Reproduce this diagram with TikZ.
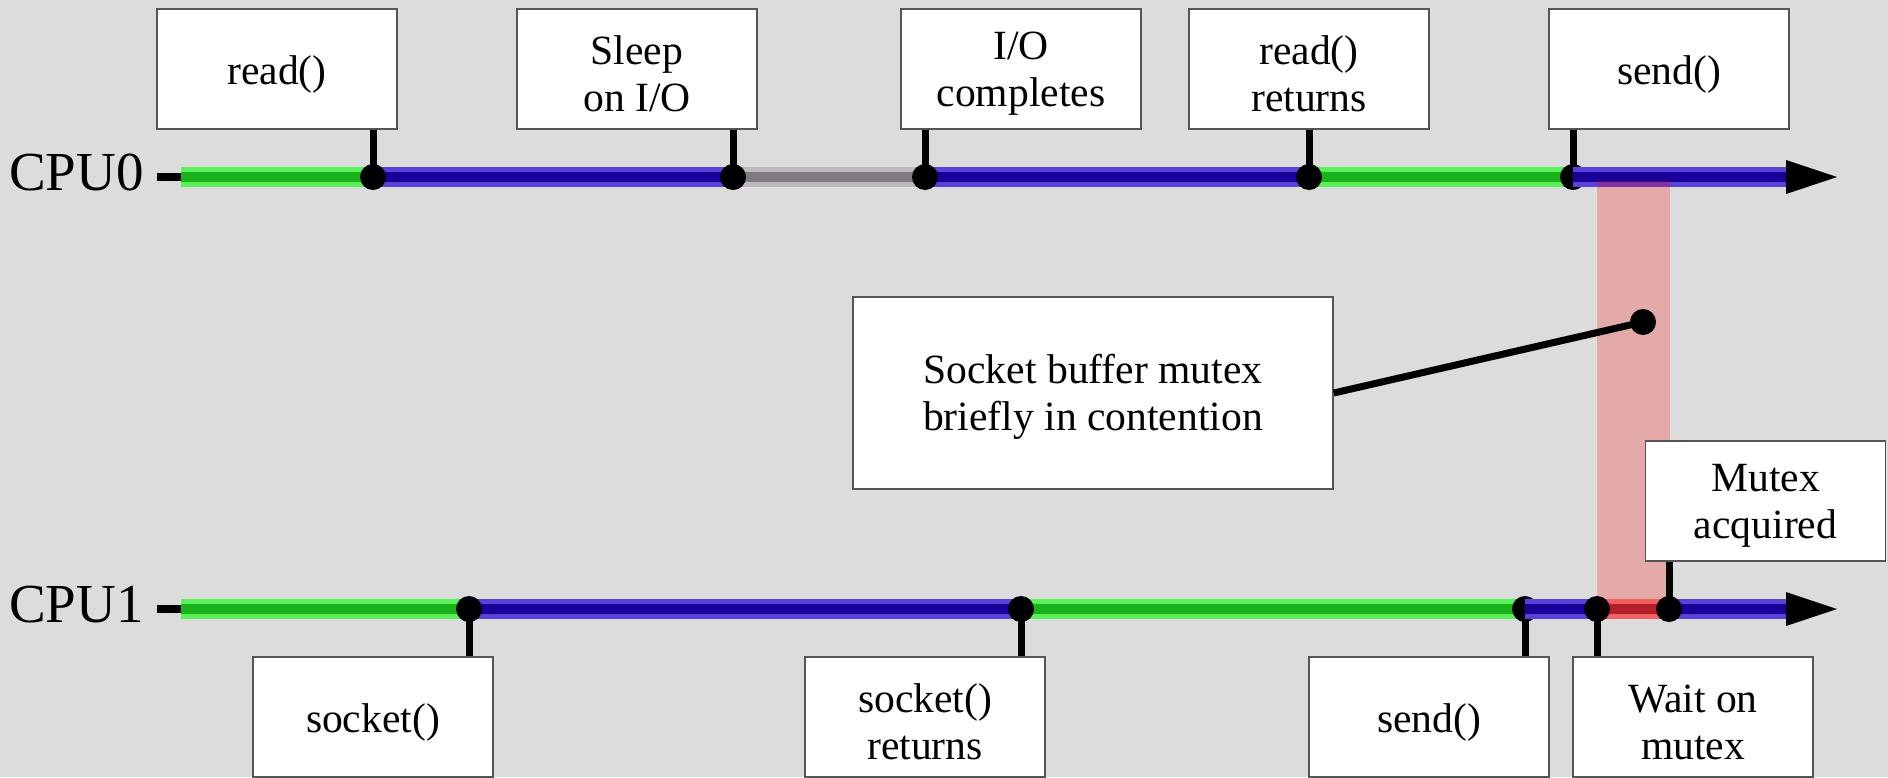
\documentclass[tikz,border=0pt]{standalone}
\usepackage{fontspec}
\setmainfont{Liberation Serif}
\definecolor{bgc}{HTML}{DCDCDC}
\definecolor{grnO}{HTML}{5AF05A}
\definecolor{grnI}{HTML}{19B019}
\definecolor{bluO}{HTML}{5A41D8}
\definecolor{bluI}{HTML}{1A0099}
\definecolor{gryO}{HTML}{BEB9BE}
\definecolor{gryI}{HTML}{7F7A7F}
\definecolor{redO}{HTML}{F06060}
\definecolor{redI}{HTML}{B41E28}
\definecolor{boxline}{HTML}{555555}
\definecolor{hold}{HTML}{FF0000}
% one coloured stretch of a timeline: outer colour, inner colour, x from, x to, y
\newcommand\tlseg[5]{%
  \draw[line width=10pt,#1] (#3,#5) -- (#4,#5);
  \draw[line width=5pt,#2] (#3,#5) -- (#4,#5);}
% a white event box with its caption: name, centre, caption
\newcommand\evbox[3]{%
  \node[box] (#1) at (#2) {};
  \node[lbl] (#1-txt) at ([yshift=-2.5pt]#1.center) {#3};}
\begin{document}
\begin{tikzpicture}[x=0.5pt,y=-0.5pt,line cap=butt,
  box/.style={draw=boxline,line width=0.75pt,fill=white,
    minimum width=120pt,minimum height=60pt,inner sep=0pt},
  lbl/.style={align=center,inner sep=0pt,
    font=\fontsize{20.8}{23.5}\selectfont},
  dot/.style={circle,fill=black,inner sep=0pt,minimum size=13pt},
  stem/.style={draw=black,line width=3.5pt},
  cpu/.style={anchor=base east,inner sep=0pt,font=\fontsize{27.5}{30}\selectfont}]
\fill[bgc] (0,0) rectangle (1888,777);
\useasboundingbox (0,0) rectangle (1888,777);

% ---- CPU0 timeline ----
\node[cpu] (cpu0) at (144,190) {CPU0};
\draw[line width=4pt] (157,177) -- (181,177);
\tlseg{grnO}{grnI}{181}{373}{177}
\tlseg{bluO}{bluI}{373}{733}{177}
\tlseg{gryO}{gryI}{733}{925}{177}
\tlseg{bluO}{bluI}{925}{1309}{177}
\tlseg{grnO}{grnI}{1309}{1573}{177}

\evbox{t1}{277,69}{read()}
\evbox{t2}{637,69}{Sleep\\on I/O}
\evbox{t3}{1021,69}{I/O\\completes}
\evbox{t4}{1309,69}{read()\\returns}
\evbox{t5}{1669,69}{send()}

\node[dot] (p1) at (373,177) {};
\node[dot] (p2) at (733,177) {};
\node[dot] (p3) at (925,177) {};
\node[dot] (p4) at (1309,177) {};
\node[dot] (p5) at (1573,177) {};
\foreach \i in {1,...,5} \draw[stem] (p\i.center) -- (p\i |- t\i.south);

\tlseg{bluO}{bluI}{1573}{1788}{177}
\fill (1786,160) -- (1837,177) -- (1786,194) -- cycle;

% ---- contention band ----
\fill[hold,opacity=0.23] (1597,181) rectangle (1670,609);

% ---- CPU1 timeline ----
\node[cpu] (cpu1) at (144,622) {CPU1};
\draw[line width=4pt] (157,609) -- (181,609);
\tlseg{grnO}{grnI}{181}{469}{609}
\tlseg{bluO}{bluI}{469}{1021}{609}
\tlseg{grnO}{grnI}{1021}{1525}{609}

\evbox{s1}{373,717}{socket()}
\evbox{s2}{925,717}{socket()\\returns}
\evbox{s3}{1429,717}{send()}
\evbox{s4}{1693,717}{Wait on\\mutex}
\evbox{s5}{1765.5,501}{Mutex\\acquired}

\node[dot] (q1) at (469,609) {};
\node[dot] (q2) at (1021,609) {};
\node[dot] (q3) at (1525,609) {};
\foreach \i in {1,2,3} \draw[stem] (q\i.center) -- (q\i |- s\i.north);

\tlseg{bluO}{bluI}{1525}{1597}{609}
\tlseg{redO}{redI}{1597}{1669}{609}
\tlseg{bluO}{bluI}{1669}{1788}{609}
\fill (1786,592) -- (1837,609) -- (1786,626) -- cycle;

\node[dot] (q4) at (1597,609) {};
\node[dot] (q5) at (1669,609) {};
\draw[stem] (q4.center) -- (q4 |- s4.north);
\draw[stem] (q5.center) -- (q5 |- s5.south);

% ---- annotation ----
\node[box,minimum width=240pt,minimum height=96pt] (note) at (1093,393) {};
\node[lbl] (note-txt) at ([yshift=-2pt]note.center)
  {Socket buffer mutex\\briefly in contention};
\node[dot] (nd) at (1643,322) {};
\draw[stem] (note.east) -- (nd.center);
\end{tikzpicture}
\end{document}
